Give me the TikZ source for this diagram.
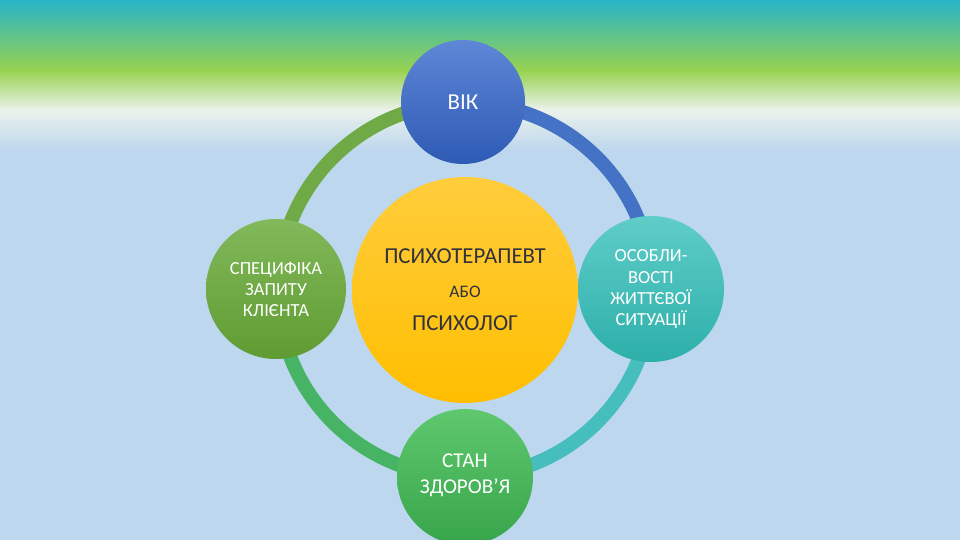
\documentclass[tikz,border=0pt]{standalone}
\usepackage{fontspec}
\setmainfont{Carlito}
\begin{document}
\begin{tikzpicture}[x=0.02cm,y=-0.02cm,
  bub/.style={circle,inner sep=0pt,align=center,font=\fontsize{10.5}{12}\selectfont,text=white},
  ring/.style={line width=14*0.02cm}]
\useasboundingbox (0,0) rectangle (960,540);
\fill[color={rgb,255:red,189;green,215;blue,238}] (0,0) rectangle (960,540);
\shade[top color={rgb,255:red,40;green,180;blue,200},bottom color={rgb,255:red,150;green,210;blue,80}] (0,0) rectangle (960,70);
\shade[top color={rgb,255:red,150;green,210;blue,80},bottom color={rgb,255:red,235;green,242;blue,235}] (0,70) rectangle (960,110);
\shade[top color={rgb,255:red,235;green,242;blue,235},bottom color={rgb,255:red,189;green,215;blue,238}] (0,110) rectangle (960,150);
\coordinate (c) at (465,290);
\draw[ring,color={rgb,255:red,112;green,170;blue,70}] (c) ++(180:187) arc[start angle=180,end angle=270,radius=187];
\draw[ring,color={rgb,255:red,68;green,114;blue,196}] (c) ++(270:187) arc[start angle=270,end angle=360,radius=187];
\draw[ring,color={rgb,255:red,70;green,190;blue,190}] (c) ++(0:187) arc[start angle=0,end angle=90,radius=187];
\draw[ring,color={rgb,255:red,70;green,180;blue,100}] (c) ++(90:187) arc[start angle=90,end angle=180,radius=187];
\shade[top color={rgb,255:red,255;green,205;blue,60},bottom color={rgb,255:red,255;green,190;blue,0}] (c) circle[radius=113];
\node[bub,text={rgb,255:red,50;green,50;blue,60},font=\fontsize{13}{15}\selectfont] (mid) at (c) {ПСИХОТЕРАПЕВТ\\[4pt]{\fontsize{10}{12}\selectfont АБО}\\[4pt]ПСИХОЛОГ};
\shade[top color={rgb,255:red,95;green,135;blue,215},bottom color={rgb,255:red,45;green,90;blue,180}] (463,102) circle[radius=62];
\node[bub,font=\fontsize{13}{15}\selectfont] (vik) at (463,102) {ВІК};
\shade[top color={rgb,255:red,130;green,185;blue,90},bottom color={rgb,255:red,95;green,155;blue,50}] (276,289) circle[radius=70];
\node[bub] (spec) at (276,289) {СПЕЦИФІКА\\ЗАПИТУ\\КЛІЄНТА};
\shade[top color={rgb,255:red,95;green,205;blue,200},bottom color={rgb,255:red,45;green,175;blue,170}] (651,289) circle[radius=73];
\node[bub] (osob) at (651,289) {ОСОБЛИ-\\ВОСТІ\\ЖИТТЄВОЇ\\СИТУАЦІЇ};
\shade[top color={rgb,255:red,95;green,200;blue,110},bottom color={rgb,255:red,55;green,165;blue,75}] (465,477) circle[radius=68];
\node[bub,font=\fontsize{12}{15}\selectfont] (stan) at (465,475) {СТАН\\ЗДОРОВ’Я};
\end{tikzpicture}
\end{document}
